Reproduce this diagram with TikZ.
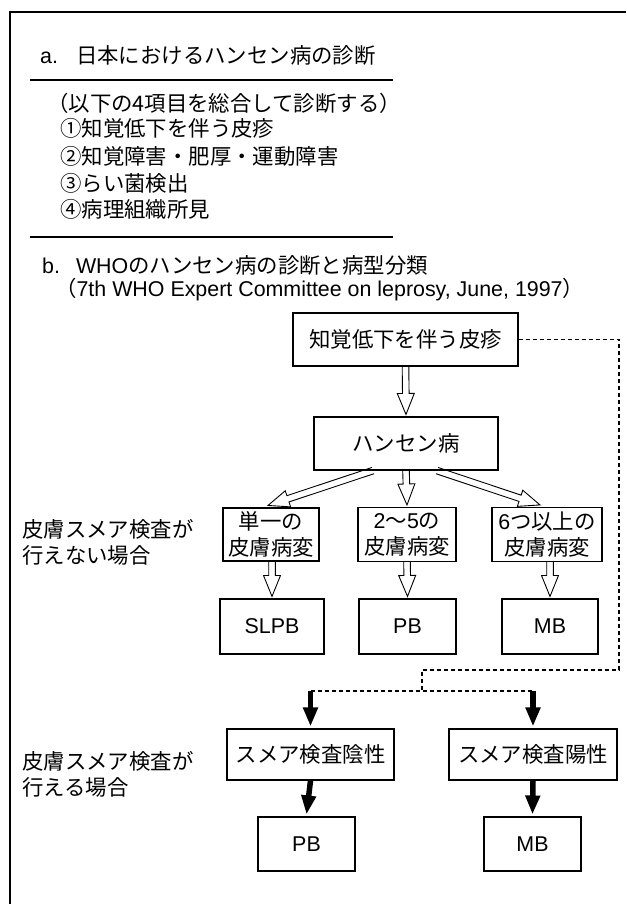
\documentclass[tikz,border=0pt]{standalone}
\usepackage{fontspec}
\setmainfont{Liberation Sans}
\newfontfamily\jpfont{Noto Sans CJK JP}
\newcommand\J[1]{{\jpfont #1}}
\usetikzlibrary{calc,arrows.meta}
\tikzset{
  frameline/.style={line width=1.3pt},
  ruleline/.style={line width=1.4pt},
  box/.style={draw, line width=1.1pt, rectangle, inner sep=0pt, align=center},
  txt/.style={anchor=west, inner sep=0pt, align=left},
  hollow/.style={draw, line width=0.9pt, line join=miter},
  solidarr/.style={line width=5.5pt, -{Triangle[length=19pt,width=14pt]}},
  dashline/.style={line width=1.4pt, dash pattern=on 4pt off 3pt}
}
% hollow (outlined) arrow from #1 to #2
\newcommand\harrow[2]{%
  \draw[hollow] ($(#1)!3.3pt!90:(#2)$)
    -- ($(#2)!21pt!(#1)!3.3pt!90:(#2)$)
    -- ($(#2)!21pt!(#1)!8.5pt!90:(#2)$)
    -- (#2)
    -- ($(#2)!21pt!(#1)!8.5pt!-90:(#2)$)
    -- ($(#2)!21pt!(#1)!3.3pt!-90:(#2)$)
    -- ($(#1)!3.3pt!-90:(#2)$);}
\begin{document}
\begin{tikzpicture}[x=1pt,y=-1pt,font=\fontsize{21.4}{26}\selectfont]
\useasboundingbox (0,0) rectangle (626,904);
\fill[white] (0,0) rectangle (626,904);
% frame
\coordinate (fbl) at (10,904);
\coordinate (ftl) at (10,12);
\coordinate (ftr) at (626,12);
\draw[frameline] (fbl) -- (ftl) -- (ftr);
% part a
\node[txt] (ta) at (40,55) {a.\hspace{18pt}\J{日本におけるハンセン病の診断}};
\coordinate (r1a) at (30,80); \coordinate (r1b) at (393,80);
\draw[ruleline] (r1a) -- (r1b);
\node[txt] (tcrit) at (47,103) {\J{（以下の4項目を総合して診断する）}};
\node[txt] (c1) at (60,128) {\J{①知覚低下を伴う皮疹}};
\node[txt] (c2) at (60,156) {\J{②知覚障害・肥厚・運動障害}};
\node[txt] (c3) at (60,183) {\J{③らい菌検出}};
\node[txt] (c4) at (60,209) {\J{④病理組織所見}};
\coordinate (r2a) at (30,237); \coordinate (r2b) at (393,237);
\draw[ruleline] (r2a) -- (r2b);
% part b
\node[txt] (tb) at (42,265) {b.\hspace{16pt}WHO\J{のハンセン病の診断と病型分類}};
\node[txt] (tref) at (55,290) {\J{（}7th WHO Expert Committee on leprosy, June, 1997\J{）}};
% boxes
\node[box, minimum width=225, minimum height=53] (chikaku) at (405.5,339.5) {\J{知覚低下を伴う皮疹}};
\node[box, minimum width=184, minimum height=53] (hansen) at (406,443.5) {\J{ハンセン病}};
\node[box, minimum width=96, minimum height=53] (tan) at (271,534.5) {\J{単一の}\\\J{皮膚病変}};
\node[box, minimum width=98, minimum height=54] (two) at (407,534.5) {2\J{〜}5\J{の}\\\J{皮膚病変}};
\node[box, minimum width=110, minimum height=54] (six) at (547,534.5) {6\J{つ以上の}\\\J{皮膚病変}};
\node[box, minimum width=104, minimum height=55] (slpb) at (272,626.5) {SLPB};
\node[box, minimum width=97, minimum height=55] (pb1) at (407.5,626.5) {PB};
\node[box, minimum width=96, minimum height=55] (mb1) at (550,626.5) {MB};
\node[box, minimum width=167, minimum height=51] (neg) at (310.5,754.5) {\J{スメア検査陰性}};
\node[box, minimum width=168, minimum height=51] (pos) at (533,754.5) {\J{スメア検査陽性}};
\node[box, minimum width=97, minimum height=54] (pb2) at (306.5,844) {PB};
\node[box, minimum width=97, minimum height=54] (mb2) at (532.5,844) {MB};
% side labels
\node[txt] (lab1) at (22,542) {\J{皮膚スメア検査が}\\\J{行えない場合}};
\node[txt] (lab2) at (22,774) {\J{皮膚スメア検査が}\\\J{行える場合}};
% hollow arrows
\coordinate (a0e) at ($(hansen.north)+(0,-2)$);
\harrow{chikaku.south}{a0e}
\coordinate (hl) at ($(hansen.south)+(-33,0)$);
\coordinate (tl) at ($(tan.north)+(-3,-2)$);
\harrow{hl}{tl}
\coordinate (tm) at ($(two.north)+(0,-2)$);
\harrow{hansen.south}{tm}
\coordinate (hr) at ($(hansen.south)+(31,0)$);
\coordinate (tr) at ($(six.north)+(-7,-2)$);
\harrow{hr}{tr}
\coordinate (d1s) at (tan.south -| slpb.north);
\coordinate (d1e) at ($(slpb.north)+(0,-2)$);
\harrow{d1s}{d1e}
\coordinate (d2e) at ($(pb1.north)+(0,-2)$);
\harrow{two.south}{d2e}
\coordinate (d3s) at (six.south -| mb1.north);
\coordinate (d3e) at ($(mb1.north)+(0,-2)$);
\harrow{d3s}{d3e}
% dashed connector
\coordinate (dcorner) at (619,670);
\coordinate (dj) at (422,670);
\coordinate (dj2) at (422,691);
\coordinate (sl) at (neg.north |- dj2);
\coordinate (sr) at (pos.north |- dj2);
\draw[dashline] (chikaku.east) -| (dcorner) -- (dj) -- (dj2);
\draw[dashline] (sl) -- (sr);
% solid arrows
\coordinate (nt) at ($(neg.north)+(0,-2)$);
\coordinate (pt) at ($(pos.north)+(0,-2)$);
\draw[solidarr] (sl) -- (nt);
\draw[solidarr] (sr) -- (pt);
\coordinate (pb2t) at ($(pb2.north)+(0,-2)$);
\coordinate (mb2t) at ($(mb2.north)+(0,-2)$);
\draw[solidarr] (neg.south) -- (pb2t);
\draw[solidarr] (pos.south) -- (mb2t);
\end{tikzpicture}
\end{document}
